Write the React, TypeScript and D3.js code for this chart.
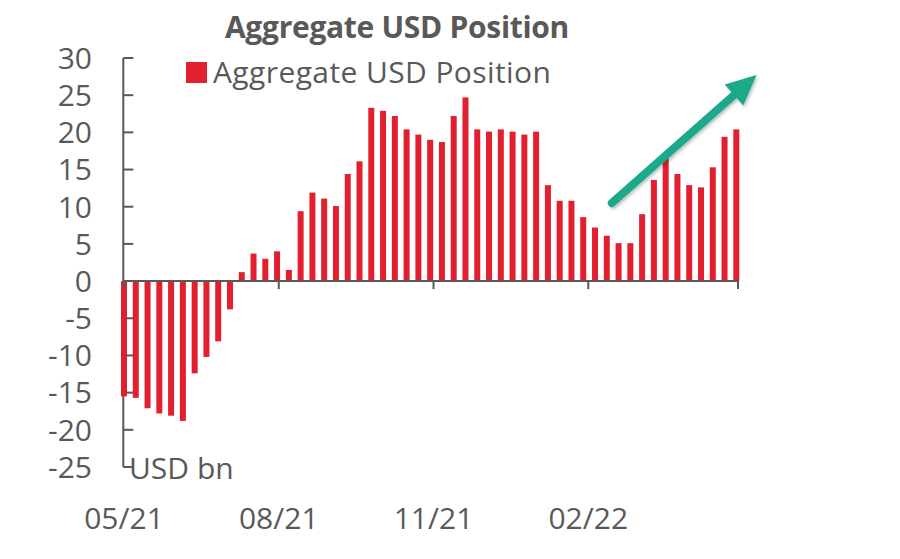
import React from "react";
import * as d3 from "d3";

// ---- Data ----
const startDate = "2021-05-01";
const values: number[] = [
  -15.5, -15.7, -17.1, -17.8, -18.1, -18.8, -12.4, -10.2, -8.1, -3.8,
  1.2, 3.7, 3.0, 4.0, 1.5, 9.4, 11.9, 11.1, 10.1, 14.4,
  16.1, 23.3, 22.9, 22.2, 20.4, 19.7, 19.0, 18.7, 22.2, 24.7,
  20.4, 20.1, 20.4, 20.1, 19.7, 20.1, 12.9, 10.8, 10.8, 8.6,
  7.2, 6.1, 5.1, 5.1, 9.0, 13.6, 16.5, 14.4, 12.9, 12.6,
  15.3, 19.4, 20.4,
];
const yTicks = [-25, -20, -15, -10, -5, 0, 5, 10, 15, 20, 25, 30];
const xTickDates = ["2021-05-01", "2021-08-01", "2021-11-01", "2022-02-01", "2022-05-01"];
const xTickLabels = ["05/21", "08/21", "11/21", "02/22", ""];
const title = "Aggregate USD Position";
const seriesName = "Aggregate USD Position";
const unitLabel = "USD bn";
// trend arrow annotation in data terms
const arrowFrom = { date: "2022-02-15", value: 10.5 };
const arrowTo = { date: "2022-05-12", value: 27.7 };

const parse = d3.utcParse("%Y-%m-%d");
const dates = values.map((_, i) => d3.utcDay.offset(parse(startDate)!, i * 7));

export default function App() {
  const W = 900, H = 559;
  const x = d3.scaleUtc().domain([parse("2021-05-01")!, parse("2022-05-01")!]).range([124, 738]);
  const y = d3.scaleLinear().domain([-25, 30]).range([467, 58]);
  const axisColor = "#595959";
  const textColor = "#595959";
  const red = "#e21f2f";
  const teal = "#1aa88b";
  const font = "'Open Sans', 'Noto Sans', sans-serif";
  const barW = 6;
  const x0 = x.range()[0] - 0.7;

  const ax1 = x(parse(arrowFrom.date)!), ay1 = y(arrowFrom.value);
  const ax2 = x(parse(arrowTo.date)!), ay2 = y(arrowTo.value);
  const ang = Math.atan2(ay2 - ay1, ax2 - ax1);
  const headLen = 30, headHalf = 14;
  const bx = ax2 - headLen * Math.cos(ang), by = ay2 - headLen * Math.sin(ang);
  const px = -Math.sin(ang), py = Math.cos(ang);
  const head = [
    [ax2, ay2],
    [bx + headHalf * px, by + headHalf * py],
    [bx - headHalf * px, by - headHalf * py],
  ].map((p) => p.join(",")).join(" ");

  return (
    <svg width={W} height={H} style={{ position: "absolute", left: 0, top: 0, background: "#fff" }} fontFamily={font}>
      <defs>
        <filter id="sh" x="-20%" y="-20%" width="140%" height="140%">
          <feDropShadow dx="1.5" dy="2" stdDeviation="1.5" floodColor="#000" floodOpacity="0.25" />
        </filter>
      </defs>
      <text x={397} y={38} textAnchor="middle" fontSize={30} fontWeight={700} fill={textColor} letterSpacing={-0.3}>{title}</text>

      {/* legend */}
      <rect x={186} y={62} width={21} height={21} fill={red} />
      <text x={213} y={83} fontSize={30} fill={textColor} letterSpacing={0.4}>{seriesName}</text>

      {/* y axis */}
      <line x1={x0} x2={x0} y1={y(30)} y2={y(-25)} stroke={axisColor} strokeWidth={2} />
      {yTicks.map((t) => (
        <g key={t}>
          <line x1={x0} x2={x0 + 10} y1={y(t)} y2={y(t)} stroke={axisColor} strokeWidth={2} />
          <text x={92} y={y(t)} dy="0.36em" textAnchor="end" fontSize={30} fill={textColor}>{t}</text>
        </g>
      ))}

      {/* bars */}
      {values.map((v, i) => (
        <rect key={i} x={x(dates[i]) - barW / 2} width={barW}
          y={Math.min(y(v), y(0))} height={Math.abs(y(v) - y(0))} fill={red} />
      ))}

      {/* x axis */}
      <line x1={x0} x2={x.range()[1]} y1={y(0)} y2={y(0)} stroke={axisColor} strokeWidth={2} />
      {xTickDates.map((d, i) => (
        <g key={d}>
          <line x1={x(parse(d)!)} x2={x(parse(d)!)} y1={y(0)} y2={y(0) + 8} stroke={axisColor} strokeWidth={2} />
          <text x={x(parse(d)!)} y={529} textAnchor="middle" fontSize={30} fill={textColor}>{xTickLabels[i]}</text>
        </g>
      ))}

      <text x={129} y={479} fontSize={30} fill={textColor}>{unitLabel}</text>

      {/* trend arrow */}
      <g filter="url(#sh)">
        <line x1={ax1} y1={ay1} x2={bx + 2 * Math.cos(ang)} y2={by + 2 * Math.sin(ang)} stroke={teal} strokeWidth={8} strokeLinecap="round" />
        <polygon points={head} fill={teal} />
      </g>
    </svg>
  );
}
